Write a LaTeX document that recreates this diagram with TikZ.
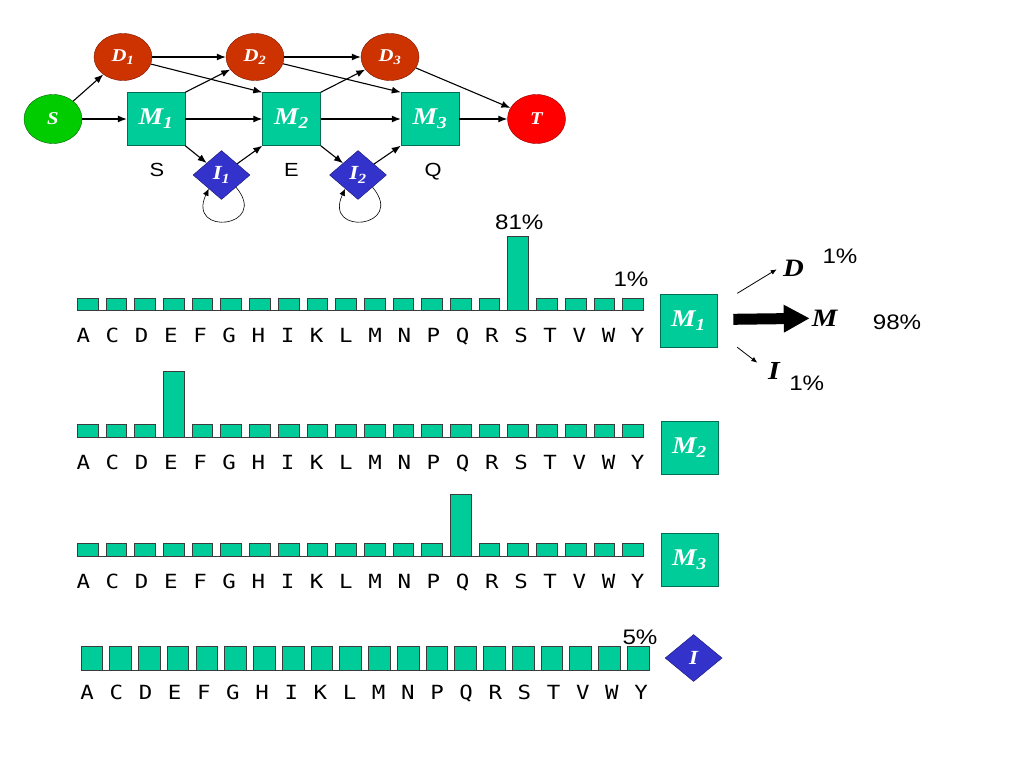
\documentclass[tikz,border=0pt]{standalone}
\usepackage{fontspec}
\usetikzlibrary{shapes.geometric,arrows.meta}
\newfontfamily\timesbi[FakeStretch=1.15]{Liberation Serif}
\newfontfamily\arialf[FakeStretch=1.15]{Liberation Sans}
\newfontfamily\monof[FakeStretch=1.15]{DejaVu Sans Mono}
\definecolor{mteal}{RGB}{0,204,153}
\definecolor{mline}{RGB}{0,110,85}
\definecolor{dred}{RGB}{204,51,0}
\definecolor{dline}{RGB}{120,20,0}
\definecolor{sgreen}{RGB}{0,204,0}
\definecolor{sline}{RGB}{0,100,0}
\definecolor{tred}{RGB}{255,0,0}
\definecolor{tline}{RGB}{140,0,0}
\definecolor{iblue}{RGB}{51,51,204}
\definecolor{iline}{RGB}{20,20,110}
\definecolor{barline}{RGB}{60,60,60}
\begin{document}
\begin{tikzpicture}[x=1pt,y=1pt,
  bi/.style={font=\timesbi\bfseries\itshape\fontsize{#1}{#1}\selectfont},
  mnode/.style={rectangle,draw=mline,fill=mteal,minimum width=58pt,minimum height=53pt,inner sep=0pt,text=white,bi=24},
  dnode/.style={ellipse,draw=dline,fill=dred,minimum width=58pt,minimum height=47pt,inner sep=0pt,text=white,bi=18},
  endnode/.style={ellipse,minimum width=58pt,minimum height=49pt,inner sep=0pt,text=white,bi=18},
  inode/.style={diamond,draw=iline,fill=iblue,minimum width=57pt,minimum height=49pt,inner sep=0pt,text=white,bi=20},
  arr/.style={-{Latex[length=9pt,width=7pt]},line width=1.1pt},
  loopline/.style={-{Latex[length=7pt,width=6pt]},line width=0.6pt},
  bar/.style={draw=barline,fill=mteal,line width=0.8pt},
  aa/.style={anchor=base,inner sep=0pt,font=\monof\fontsize{19.5}{20}\selectfont},
  pct/.style={anchor=base,inner sep=0pt,font=\arialf\fontsize{21}{22}\selectfont}]
\useasboundingbox (0,0) rectangle (1024,-768);
\node [endnode,draw=sline,fill=sgreen] (s) at (53,-119) {S};
\node [dnode] (d1) at (123,-57) {D\textsubscript{1}};
\node [dnode] (d2) at (255,-57) {D\textsubscript{2}};
\node [dnode] (d3) at (390,-57) {D\textsubscript{3}};
\node [mnode] (m1) at (156,-119) {M\textsubscript{1}};
\node [mnode] (m2) at (291.5,-119) {M\textsubscript{2}};
\node [mnode] (m3) at (430,-119) {M\textsubscript{3}};
\node [endnode,draw=tline,fill=tred] (t) at (536.5,-119) {T};
\node [inode] (i1) at (221.5,-175) {I\textsubscript{1}};
\node [inode] (i2) at (358,-175) {I\textsubscript{2}};
\node [pct,font=\arialf\fontsize{19}{20}\selectfont] (ls) at (157,-176.7) {S};
\node [pct,font=\arialf\fontsize{19}{20}\selectfont] (le) at (291.5,-176.7) {E};
\node [pct,font=\arialf\fontsize{19}{20}\selectfont] (lq) at (433,-176.7) {Q};
\draw[arr] (s) -- (d1);
\draw[arr] (s) -- (m1);
\draw[arr] (d1) -- (d2);
\draw[arr] (d1) -- (m2.north west);
\draw[arr] (d2) -- (d3);
\draw[arr] (d2) -- (m3.north west);
\draw[arr] (d3) -- (t);
\draw[arr] (m1.north east) -- (d2);
\draw[arr] (m1) -- (m2);
\draw[arr] (m1.south east) -- (i1);
\draw[arr] (i1) -- (m2.south west);
\draw[arr] (m2.north east) -- (d3);
\draw[arr] (m2) -- (m3);
\draw[arr] (m2.south east) -- (i2);
\draw[arr] (i2) -- (m3.south west);
\draw[arr] (m3) -- (t);
\draw[loopline] (i1.-40) to[out=-50,in=-115,distance=53pt] (i1.-133);
\draw[loopline] (i2.-40) to[out=-50,in=-115,distance=53pt] (i2.-133);
\foreach \yb/\k/\hk/\r in {310.5/15/74.5/1,437.3/3/65.6/2,556/13/61.7/3}{
  \foreach \i in {0,...,19}{
    \pgfmathsetmacro{\h}{ifthenelse(\i==\k,\hk,12.5)}
    \draw[bar] ({77.3+28.7*\i},-\yb) rectangle ++(20.7,\h);
  }
  \draw[barline,line width=0.8pt] (77.3,-\yb) -- (643.3,-\yb);
  \foreach \l [count=\i from 0] in {A,C,D,E,F,G,H,I,K,L,M,N,P,Q,R,S,T,V,W,Y}
    \node[aa] (r\r\l) at ({83.3+29.18*\i},{-\yb-32}) {\l};
}
\foreach \i in {0,...,19}
  \draw[bar] ({80.9+28.76*\i},-670.7) rectangle ++(21.7,24.7);
\draw[barline,line width=0.8pt] (80.9,-670.7) -- (649,-670.7);
\foreach \l [count=\i from 0] in {A,C,D,E,F,G,H,I,K,L,M,N,P,Q,R,S,T,V,W,Y}
  \node[aa] (r4\l) at ({87.2+29.15*\i},-699) {\l};
\node [mnode,minimum width=57pt] (b1) at (688.5,-320.5) {M\textsubscript{1}};
\node [mnode,minimum width=57pt] (b2) at (689.5,-447.3) {M\textsubscript{2}};
\node [mnode,minimum width=57pt] (b3) at (689.5,-560) {M\textsubscript{3}};
\node [inode,minimum height=47pt] (bi) at (693.6,-658) {I};
\node [pct] (p81) at (519.3,-229) {81\%};
\node [pct] (p1) at (631,-286) {1\%};
\node [pct] (p5) at (640,-644) {5\%};
\node [anchor=base,inner sep=2pt,bi=25] (dl) at (793.5,-276) {D};
\node [anchor=base,inner sep=2pt,bi=25] (ml) at (824.7,-326.5) {M};
\node [anchor=base,inner sep=2pt,bi=26] (il) at (774,-379.3) {I};
\node [pct] (pd) at (840,-263) {1\%};
\node [pct] (pm) at (897,-329) {98\%};
\node [pct] (pi) at (806.7,-390) {1\%};
\coordinate (d0) at (737.3,-293.3);
\coordinate (dt) at (776.7,-269.3);
\coordinate (m0) at (733.3,-319.3);
\coordinate (i0) at (737.3,-347.3);
\coordinate (it) at (757.3,-362.7);
\draw[-{Latex[length=6pt,width=5pt]},line width=0.8pt] (d0) -- (dt);
\draw[-{Triangle[length=26pt,width=26pt]},line width=11pt] (m0) -- (ml.west);
\draw[-{Latex[length=6pt,width=5pt]},line width=0.8pt] (i0) -- (it);
\end{tikzpicture}
\end{document}
